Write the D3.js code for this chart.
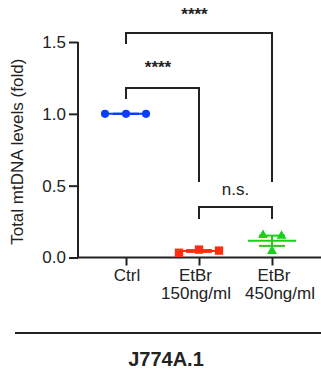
<!DOCTYPE html>
<html>
<head>
<meta charset="utf-8">
<script src="https://cdn.jsdelivr.net/npm/d3@7"></script>
<style>
  html, body { margin: 0; padding: 0; background: #fff; }
  svg { display: block; font-family: 'Liberation Sans', Arial, sans-serif; }
</style>
</head>
<body>
<svg id="chart" width="321" height="376"></svg>
<script>
// Data
const categories = ['Ctrl', 'EtBr|150ng/ml', 'EtBr|450ng/ml'];
const ctrlValues = [1.0, 1.0, 1.0];
const etbr150Values = [0.033, 0.055, 0.048];
const etbr450Values = [0.155, 0.150, 0.045];
const yTicks = [0, 0.5, 1.0, 1.5];
const comparisons = [
  { a: 0, b: 2, label: '****' },
  { a: 0, b: 1, label: '****' },
  { a: 1, b: 2, label: 'n.s.' }
];
const cellLine = 'J774A.1';

// Layout / style
const groupStyle = [
  { color: '#0b3dff', shape: 'circle', spread: [-21, 0, 20], labelDx: [1, 0] },
  { color: '#ff2e0c', shape: 'square', spread: [-20, 0, 20], labelDx: [-3.5, -3] },
  { color: '#19d119', shape: 'triangle', spread: [-9, 9.5, 0], labelDx: [2, 8] }
];
const ink = '#222';

const svg = d3.select('#chart');

// Scales
const y = d3.scaleLinear().domain([0, 1.5]).range([257.5, 42]);
const x = d3.scalePoint().domain(categories).range([126, 272]);

// Y axis
const yAxis = svg.append('g')
  .attr('transform', 'translate(78,0)')
  .call(d3.axisLeft(y).tickValues(yTicks).tickFormat(d3.format('.1f')).tickSize(9).tickPadding(3));
yAxis.select('.domain').attr('stroke', ink).attr('stroke-width', 2)
  .attr('d', `M0,${y(1.5)}V${y(0)}`);
yAxis.selectAll('.tick line').attr('stroke', ink).attr('stroke-width', 2);
yAxis.selectAll('.tick text').attr('fill', ink).style('font-size', '17px');

// X axis
const xAxis = svg.append('g')
  .attr('transform', `translate(0,${y(0)})`)
  .call(d3.axisBottom(x).tickSize(8).tickFormat(''));
xAxis.select('.domain').attr('stroke', ink).attr('stroke-width', 2)
  .attr('d', 'M77,0H321');
xAxis.selectAll('.tick line').attr('stroke', ink).attr('stroke-width', 2);

// X labels (two lines)
categories.forEach((c, gi) => {
  const t = svg.append('text')
    .attr('y', 281)
    .attr('text-anchor', 'middle')
    .attr('fill', ink)
    .style('font-size', '17px');
  c.split('|').forEach((line, i) => {
    t.append('tspan')
      .attr('x', x(c) + groupStyle[gi].labelDx[i])
      .attr('dy', i === 0 ? 0 : 18)
      .text(line);
  });
});

// Y label
svg.append('text')
  .attr('transform', `translate(23,${(y(0) + y(1.5)) / 2 + 2}) rotate(-90)`)
  .attr('text-anchor', 'middle')
  .attr('fill', ink)
  .style('font-size', '17px')
  .text('Total mtDNA levels (fold)');

// Groups: mean line, SEM bars, points
const groups = [ctrlValues, etbr150Values, etbr450Values];
groups.forEach((vals, gi) => {
  const st = groupStyle[gi];
  const cx = x(categories[gi]);
  const mean = d3.mean(vals);
  const sem = d3.deviation(vals) / Math.sqrt(vals.length);
  const g = svg.append('g').attr('stroke', st.color).attr('fill', st.color);

  g.append('line')
    .attr('x1', cx - 24).attr('x2', cx + 24)
    .attr('y1', y(mean)).attr('y2', y(mean))
    .attr('stroke-width', 2);
  g.append('line')
    .attr('x1', cx).attr('x2', cx)
    .attr('y1', y(mean + sem)).attr('y2', y(mean - sem))
    .attr('stroke-width', 2);
  [mean + sem, mean - sem].forEach(v => {
    g.append('line')
      .attr('x1', cx - 13).attr('x2', cx + 13)
      .attr('y1', y(v)).attr('y2', y(v))
      .attr('stroke-width', 2);
  });

  const symbol = st.shape === 'circle' ? d3.symbolCircle
    : st.shape === 'square' ? d3.symbolSquare : d3.symbolTriangle;
  const size = st.shape === 'circle' ? 52 : st.shape === 'square' ? 70 : 42;
  g.selectAll('path.pt')
    .data(vals)
    .enter()
    .append('path')
      .attr('class', 'pt')
      .attr('stroke', 'none')
      .attr('d', d3.symbol().type(symbol).size(size))
      .attr('transform', (v, i) => `translate(${cx + st.spread[i]},${y(v)})`);
});

// Significance brackets
const bracketLayout = [
  { top: 33, legA: 44, legB: 182, labelY: 17, dx: -4.5 },
  { top: 88, legA: 99, legB: 182, labelY: 70, dx: -4.5 },
  { top: 207, legA: 219, legB: 219, labelY: 195, dx: 0 }
];
comparisons.forEach((c, i) => {
  const L = bracketLayout[i];
  const xa = x(categories[c.a]);
  const xb = x(categories[c.b]);
  svg.append('path')
    .attr('d', `M${xa},${L.legA}V${L.top}H${xb}V${L.legB}`)
    .attr('fill', 'none')
    .attr('stroke', ink)
    .attr('stroke-width', 2);
  const stars = c.label.startsWith('*');
  svg.append('text')
    .attr('x', (xa + xb) / 2 + L.dx)
    .attr('y', L.labelY + (stars ? 3 : 0))
    .attr('text-anchor', 'middle')
    .attr('fill', ink)
    .style('font-size', '17px')
    .style('font-weight', stars ? 'bold' : 'normal')
    .text(c.label);
});

// Bottom rule and cell line label
svg.append('line')
  .attr('x1', 15).attr('x2', 321)
  .attr('y1', 333).attr('y2', 333)
  .attr('stroke', ink).attr('stroke-width', 2);
svg.append('text')
  .attr('x', 166)
  .attr('y', 366)
  .attr('text-anchor', 'middle')
  .attr('fill', ink)
  .style('font-size', '20px')
  .style('font-weight', 'bold')
  .text(cellLine);
</script>
</body>
</html>
